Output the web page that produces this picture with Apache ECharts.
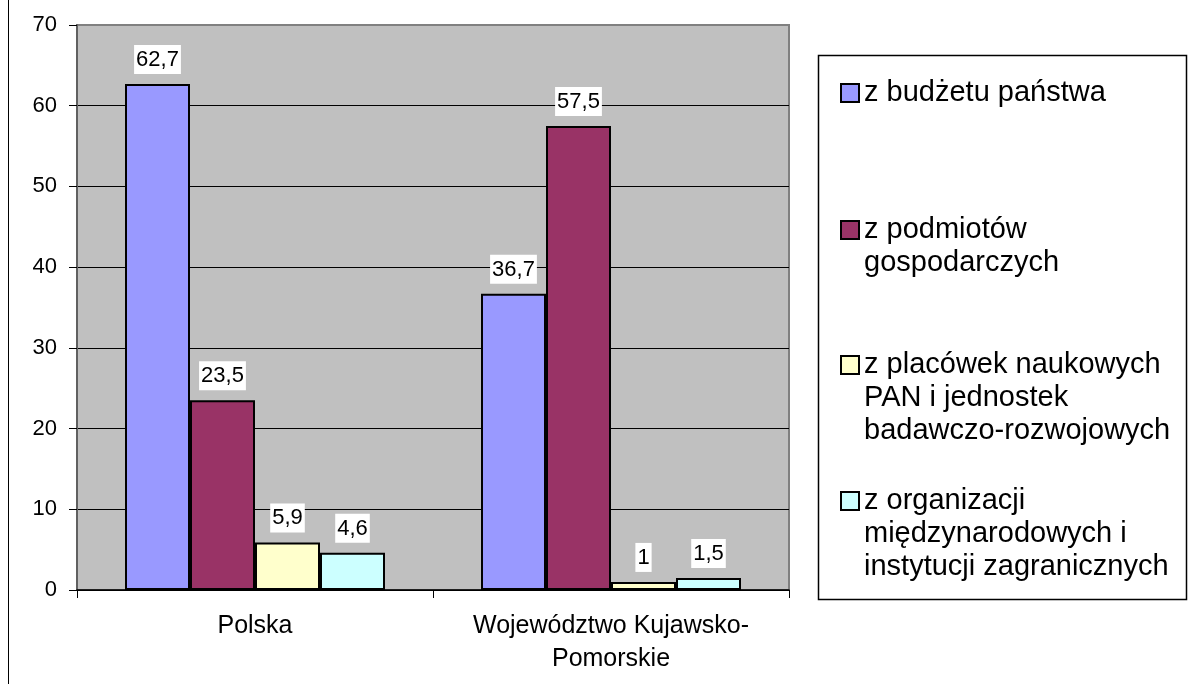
<!DOCTYPE html>
<html>
<head>
<meta charset="utf-8">
<script src="https://cdn.jsdelivr.net/npm/echarts@6/dist/echarts.min.js"></script>
<style>
html,body{margin:0;padding:0;background:#fff;}
#chart{width:1188px;height:684px;}
</style>
</head>
<body>
<div id="chart"></div>
<script>
const categories = ['Polska', 'Województwo Kujawsko-\nPomorskie'];
const seriesNames = [
  'z budżetu państwa',
  'z podmiotów\ngospodarczych',
  'z placówek naukowych\nPAN i jednostek\nbadawczo-rozwojowych',
  'z organizacji\nmiędzynarodowych i\ninstytucji zagranicznych'
];
const budzetPanstwa = [62.7, 36.7];
const podmiotyGospodarcze = [23.5, 57.5];
const placowkiNaukowe = [5.9, 1];
const organizacjeMiedzynarodowe = [4.6, 1.5];
const yMin = 0, yMax = 70, yInterval = 10;

const seriesValues = [budzetPanstwa, podmiotyGospodarcze, placowkiNaukowe, organizacjeMiedzynarodowe];
const colors = ['#9999ff', '#993366', '#ffffcc', '#ccffff'];
const FONT = '"Liberation Sans", Arial, sans-serif';

const chart = echarts.init(document.getElementById('chart'), null, {renderer: 'canvas'});

const legendFirstLineCenters = [93, 230, 365, 501];
const LH = 33;
const legends = seriesNames.map((name, i) => {
  const n = name.split('\n').length;
  return {
    data: [name],
    orient: 'vertical',
    left: 840,
    top: legendFirstLineCenters[i] - (2 * n - 1) * LH / 2,
    padding: 0,
    selectedMode: false,
    itemWidth: 18,
    itemHeight: 18,
    icon: 'rect',
    itemStyle: {borderColor: '#000', borderWidth: 2},
    formatter: nm => ' \n'.repeat(n - 1) + nm,
    textStyle: {
      fontFamily: FONT, fontSize: 29, color: '#000', lineHeight: LH
    }
  };
});

const option = {
  animation: false,
  backgroundColor: '#fff',
  color: colors,
  graphic: [
    {type: 'rect', shape: {x: 8.5, y: -5, width: 1300, height: 720}, style: {fill: 'none', stroke: '#000', lineWidth: 1}, silent: true, z: -10},
    {type: 'rect', shape: {x: 818.5, y: 55.5, width: 368, height: 544}, style: {fill: '#fff', stroke: '#000', lineWidth: 1.5}, silent: true, z: -5}
  ],
  legend: legends,
  grid: {
    left: 77, top: 25, right: 399, bottom: 94,
    show: true, backgroundColor: '#c0c0c0', borderColor: '#808080', borderWidth: 2,
    containLabel: false
  },
  xAxis: {
    type: 'category',
    data: categories,
    axisLine: {show: true, lineStyle: {color: '#000', width: 1.5}},
    axisTick: {show: true, length: 8, alignWithLabel: false, lineStyle: {color: '#000'}},
    axisLabel: {fontFamily: FONT, fontSize: 25, color: '#000', lineHeight: 33, margin: 20, interval: 0}
  },
  yAxis: {
    type: 'value',
    min: yMin, max: yMax, interval: yInterval,
    axisLine: {show: true, lineStyle: {color: '#606060', width: 2}},
    axisTick: {show: true, length: 8, lineStyle: {color: '#000'}},
    axisLabel: {fontFamily: FONT, fontSize: 22, color: '#000', margin: 20},
    splitLine: {show: true, showMaxLine: false, lineStyle: {color: '#000', width: 1}}
  },
  series: seriesNames.map((name, i) => ({
    name: name,
    type: 'bar',
    data: seriesValues[i],
    barWidth: 65,
    barGap: '0%',
    itemStyle: {color: colors[i], borderColor: '#000', borderWidth: 2},
    label: {
      show: true,
      position: 'top',
      distance: 10,
      fontFamily: FONT,
      fontSize: 22,
      color: '#000',
      backgroundColor: '#fff',
      padding: [4, 2, 3, 2],
      formatter: p => String(p.value).replace('.', ',')
    },
    emphasis: {disabled: true}
  }))
};
chart.setOption(option);
</script>
</body>
</html>
